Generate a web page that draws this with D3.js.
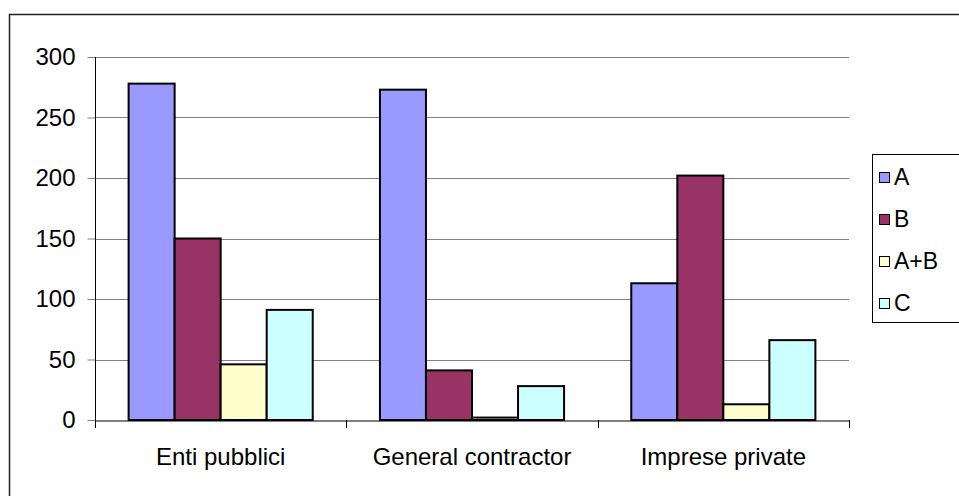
<!DOCTYPE html>
<html>
<head>
<meta charset="utf-8">
<script src="https://cdn.jsdelivr.net/npm/d3@7"></script>
<style>
html,body{margin:0;padding:0;background:#fff;}
svg{display:block;font-family:Arial,"Liberation Sans",sans-serif;}
</style>
</head>
<body>
<svg id="chart" width="959" height="496"></svg>
<script>
const categories = ["Enti pubblici", "General contractor", "Imprese private"];
const seriesNames = ["A", "B", "A+B", "C"];
const valuesA = [278, 273, 113];
const valuesB = [150, 41, 202];
const valuesAB = [46, 2, 13];
const valuesC = [91, 28, 66];
const colors = ["#9999FF", "#993366", "#FFFFCC", "#CCFFFF"];
const yTicks = [0, 50, 100, 150, 200, 250, 300];

const seriesValues = [valuesA, valuesB, valuesAB, valuesC];

(function () {
const svg = d3.select("#chart");
const W = 959, H = 496;
const FONT = "Arial, 'Liberation Sans', sans-serif";

// outer frame
svg.append("rect").attr("x", 9.5).attr("y", 14.5).attr("width", W + 10).attr("height", H + 10)
  .attr("fill", "#fff").attr("stroke", "#222").attr("stroke-width", 1.5);

const pL = 95, pR = 849, pT = 57, pB = 420;

const x0 = d3.scaleBand().domain(categories).range([pL, pR]).paddingInner(0).paddingOuter(0);
const x1 = d3.scaleBand().domain(seriesNames).range([0, x0.bandwidth()]).paddingOuter(0.73).paddingInner(0);
const y = d3.scaleLinear().domain([0, 300]).range([pB, pT]);

// gridlines
svg.append("g").selectAll("line").data(yTicks.filter(d => d > 0)).join("line")
  .attr("x1", pL).attr("x2", pR)
  .attr("y1", d => Math.round(y(d)) + 0.5).attr("y2", d => Math.round(y(d)) + 0.5)
  .attr("stroke", "#808080").attr("stroke-width", 1);

// bars
const groups = svg.append("g").selectAll("g").data(categories).join("g")
  .attr("transform", d => `translate(${x0(d)},0)`);
groups.selectAll("rect").data((c, i) => seriesNames.map((s, j) => ({ s, v: seriesValues[j][i], j })))
  .join("rect")
  .attr("x", d => x1(d.s))
  .attr("y", d => y(d.v))
  .attr("width", x1.bandwidth())
  .attr("height", d => y(0) - y(d.v))
  .attr("fill", d => colors[d.j])
  .attr("stroke", "#000").attr("stroke-width", 2);

// y axis
const yAxis = d3.axisLeft(y).tickValues(yTicks).tickSize(8).tickPadding(12).tickFormat(d3.format("d"));
const gy = svg.append("g").attr("transform", `translate(${pL + 0.5},0)`).call(yAxis);
gy.select(".domain").remove();
gy.selectAll(".tick line").attr("stroke", "#808080");
gy.selectAll("text").attr("font-size", 24).attr("fill", "#000").attr("font-family", FONT);
svg.append("line").attr("x1", pL + 0.5).attr("x2", pL + 0.5).attr("y1", pT).attr("y2", pB + 8)
  .attr("stroke", "#000").attr("stroke-width", 1);

// x axis
const xAxis = d3.axisBottom(x0).tickSize(0).tickPadding(27);
const gx = svg.append("g").attr("transform", `translate(0,${pB + 0.5})`).call(xAxis);
gx.select(".domain").attr("stroke", "#000");
gx.selectAll("text").attr("font-size", 24).attr("fill", "#000").attr("font-family", FONT);
const bounds = categories.map(c => x0(c)).concat([pR]);
svg.append("g").selectAll("line").data(bounds).join("line")
  .attr("x1", d => Math.round(d) + 0.5).attr("x2", d => Math.round(d) + 0.5)
  .attr("y1", pB).attr("y2", pB + 8)
  .attr("stroke", "#000");

// legend
const lg = svg.append("g");
lg.append("rect").attr("x", 872.5).attr("y", 154.5).attr("width", 100).attr("height", 168)
  .attr("fill", "#fff").attr("stroke", "#000");
const ly = d3.scalePoint().domain(seriesNames).range([177, 303]);
const items = lg.selectAll("g.item").data(seriesNames).join("g").attr("class", "item")
  .attr("transform", d => `translate(0,${ly(d)})`);
items.append("rect").attr("x", 879.5).attr("y", -4.5).attr("width", 10).attr("height", 10)
  .attr("fill", (d, i) => colors[i]).attr("stroke", "#000").attr("stroke-width", 1);
items.append("text").attr("x", 894).attr("y", 0).attr("dy", "0.35em")
  .attr("font-size", 23).attr("fill", "#000").attr("font-family", FONT).text(d => d);
})();
</script>
</body>
</html>
